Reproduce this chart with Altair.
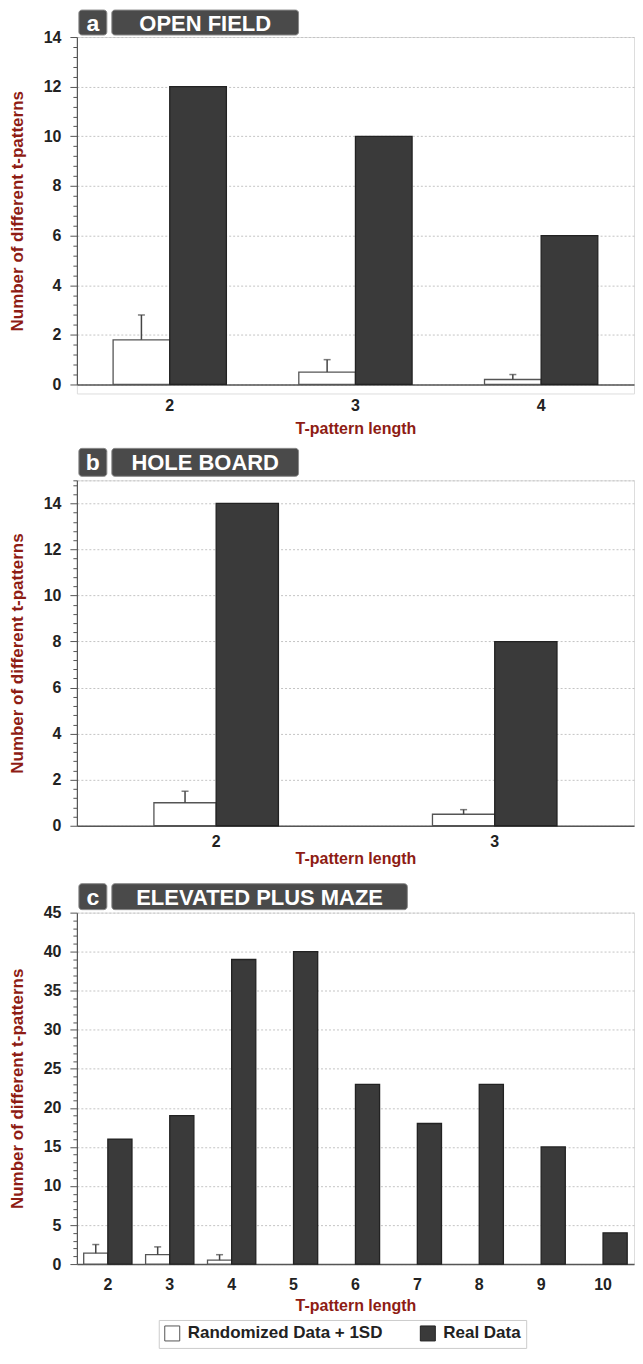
import altair as alt
import pandas as pd

FONT = "Liberation Sans"
RED = "#8e1c14"
SERIES = ["Randomized Data + 1SD", "Real Data"]

# Panel a: open field
a_len = ["2", "3", "4"]
a_rand = [1.8, 0.5, 0.2]
a_sd = [1.0, 0.5, 0.2]
a_real = [12, 10, 6]

# Panel b: hole board
b_len = ["2", "3"]
b_rand = [1.0, 0.5]
b_sd = [0.5, 0.2]
b_real = [14, 8]

# Panel c: elevated plus maze
c_len = ["2", "3", "4", "5", "6", "7", "8", "9", "10"]
c_rand = [1.4, 1.2, 0.5]
c_sd = [1.1, 1.0, 0.7]
c_real = [16, 19, 39, 40, 23, 18, 23, 15, 4]

letters = ["a", "b", "c"]
names = ["OPEN FIELD", "HOLE BOARD", "ELEVATED PLUS MAZE"]

PLOT_W = 558

fill_enc = alt.Fill(
    "series:N",
    scale=alt.Scale(domain=SERIES, range=["#ffffff", "#3a3a3a"]),
    legend=alt.Legend(
        title=None, orient="none", legendX=82, legendY=1285,
        direction="horizontal", symbolType="square", symbolSize=225,
        symbolStrokeColor="#333333", symbolStrokeWidth=1,
        labelFont=FONT, labelFontSize=17, labelFontWeight="bold",
        labelColor="#222222", columnPadding=35, labelOffset=7, labelLimit=400,
        padding=5, strokeColor="#cccccc", fillColor="#ffffff",
    ),
)
stroke_enc = alt.Stroke(
    "series:N",
    scale=alt.Scale(domain=SERIES, range=["#555555", "#222222"]),
    legend=None,
)


def panel(lengths, rand, sd, real, letter, name, ymax, minor, major,
          plot_h, extra, pad_inner, xlab_pad, xtitle_y, hdr, name_right):
    rows = []
    for i, L in enumerate(lengths):
        if i < len(rand):
            rows.append({"length": L, "series": SERIES[0], "value": rand[i],
                         "top": rand[i] + sd[i]})
        rows.append({"length": L, "series": SERIES[1], "value": real[i],
                     "top": real[i]})
    df = pd.DataFrame(rows)
    err = df[df["series"] == SERIES[0]]

    n = int(ymax / minor + 1e-9)
    vals = [round(i * minor, 3) for i in range(n + 1)]
    if vals[-1] < ymax:
        vals.append(ymax)
    major_test = f"abs(datum.value/{major} - round(datum.value/{major})) < 0.001"
    grid_test = f"({major_test}) || datum.value == {ymax}"

    x = alt.X(
        "length:N", sort=lengths,
        scale=alt.Scale(paddingInner=pad_inner, paddingOuter=pad_inner / 2),
        axis=alt.Axis(
            title="T-pattern length", labelAngle=0, ticks=False,
            domainColor="#555555", domainWidth=1.5, offset=-extra,
            labelFont=FONT, labelFontSize=16, labelFontWeight="bold",
            labelColor="#222222", labelPadding=xlab_pad,
            titleFont=FONT, titleFontSize=16, titleFontWeight="bold",
            titleColor=RED, titleY=xtitle_y, titleBaseline="middle",
        ),
    )
    xo = alt.XOffset("series:N", sort=SERIES,
                     scale=alt.Scale(domain=SERIES, paddingInner=0, paddingOuter=0))
    y = alt.Y(
        "value:Q",
        scale=alt.Scale(domain=[0, ymax], range=[plot_h, 0], nice=False),
        axis=alt.Axis(
            values=vals, tickCount=1000, labelOverlap=False,
            labelExpr=f"({major_test}) ? format(datum.value, 'd') : ''",
            tickSize={"condition": {"test": major_test, "value": 7}, "value": 4},
            gridOpacity={"condition": {"test": grid_test, "value": 1}, "value": 0},
            grid=True, gridColor="#c4c4c4", gridDash=[2, 2],
            domainColor="#555555", domainWidth=1.2, tickColor="#555555",
            labelFont=FONT, labelFontSize=16, labelFontWeight="bold",
            labelColor="#222222", labelPadding=9,
            title="Number of different t-patterns",
            titleFont=FONT, titleFontSize=17, titleFontWeight="bold",
            titleColor=RED, titleAngle=270, titleX=-59, titleBaseline="middle",
        ),
    )

    bars = alt.Chart(df).mark_bar(strokeWidth=1.3).encode(
        x=x, xOffset=xo, y=y, fill=fill_enc, stroke=stroke_enc)
    rule = alt.Chart(err).mark_rule(color="#444444", strokeWidth=1.5).encode(
        x=alt.X("length:N", sort=lengths), xOffset=alt.XOffset("series:N", sort=SERIES),
        y="value:Q", y2="top:Q")
    cap = alt.Chart(err).mark_tick(color="#444444", thickness=1.5, size=7).encode(
        x=alt.X("length:N", sort=lengths), xOffset=alt.XOffset("series:N", sort=SERIES),
        y="top:Q")

    hd = pd.DataFrame({"letter": [letter], "name": [name]})
    h0, h1 = hdr
    box1 = alt.Chart(hd).mark_rect(cornerRadius=3, fill="#4a4a4a", stroke="#8a8a8a",
                                   strokeWidth=1).encode(
        x=alt.value(2), x2=alt.value(30), y=alt.value(h0), y2=alt.value(h1))
    box2 = alt.Chart(hd).mark_rect(cornerRadius=3, fill="#4a4a4a", stroke="#8a8a8a",
                                   strokeWidth=1).encode(
        x=alt.value(35), x2=alt.value(name_right), y=alt.value(h0), y2=alt.value(h1))
    t1 = alt.Chart(hd).mark_text(font=FONT, fontSize=23, fontWeight="bold",
                                 color="#ffffff", baseline="middle").encode(
        x=alt.value(16), y=alt.value((h0 + h1) / 2 + 1), text="letter:N")
    t2 = alt.Chart(hd).mark_text(font=FONT, fontSize=22, fontWeight="bold",
                                 color="#ffffff", baseline="middle").encode(
        x=alt.value((35 + name_right) / 2), y=alt.value((h0 + h1) / 2 + 1), text="name:N")

    return alt.layer(bars, rule, cap, box1, box2, t1, t2).properties(
        width=PLOT_W, height=plot_h + extra)


pa = panel(a_len, a_rand, a_sd, a_real, letters[0], names[0], 14, 0.4, 2,
           348, 9, 0.39, 13, 44, (-27, -2), 222)
pb = panel(b_len, b_rand, b_sd, b_real, letters[1], names[1], 15, 0.4, 2,
           346, 0, 0.553, 8, 33, (-32, -4), 222)
pc = panel(c_len, c_rand, c_sd, c_real, letters[2], names[2], 45, 1, 5,
           352, 0, 0.22, 12, 42, (-29, -3), 331)

chart = alt.vconcat(pa, pb, pc, spacing=87, bounds="flush",
                    padding={"left": 0, "top": 0, "right": 0, "bottom": 0}
                    ).resolve_scale(xOffset="independent"
                    ).configure_view(stroke=None).configure(font=FONT)

chart.save("out.html", embed_options={"renderer": "svg", "actions": False})
